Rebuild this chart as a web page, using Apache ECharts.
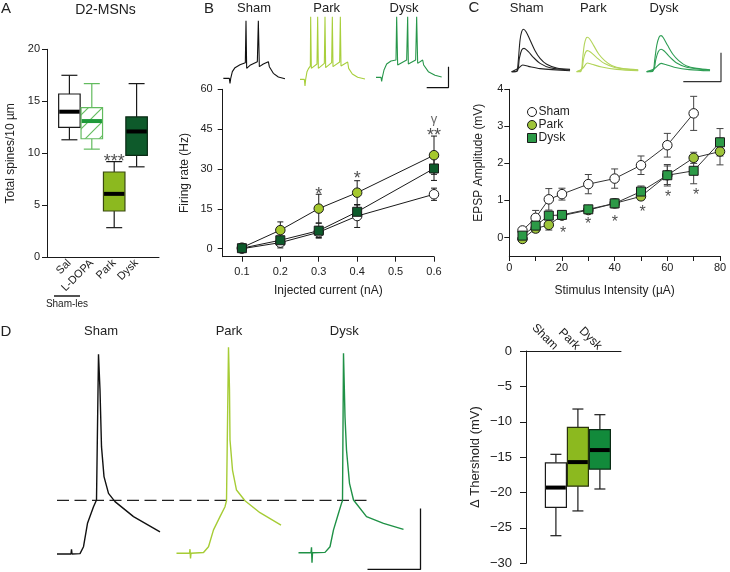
<!DOCTYPE html>
<html><head><meta charset="utf-8">
<script src="https://cdn.jsdelivr.net/npm/echarts@6/dist/echarts.min.js"></script>
<style>html,body{margin:0;padding:0;background:#fff}#c{width:730px;height:572px}</style>
</head><body><div id="c"></div>
<script>
// ---------------- DATA ----------------
// Panel A : spine density box plots
const aCats = ['', 'Sal', 'L-DOPA', 'Park', 'Dysk', ''];
const aMin = [11.3, 10.4, 2.85, 8.7];
const aQ1  = [12.5, 11.4, 4.45, 9.8];
const aMed = [14.0, 13.1, 6.1, 12.1];
const aQ3  = [15.7, 14.4, 8.2, 13.5];
const aMax = [17.5, 16.7, 9.2, 16.7];
const aSigX = [3];
const aSigY = [9.18];
const aSigText = ['***'];

// Panel B : firing rate vs injected current
const bCurrent = [0.1, 0.2, 0.3, 0.4, 0.6];
const bXTicks = [0.1, 0.2, 0.3, 0.4, 0.5, 0.6];
const bYTicks = [0, 15, 30, 45, 60];
const bSham = [0.0, 2.3, 6.2, 12.3, 20.5];
const bShamErr = [0.3, 2.0, 2.0, 4.3, 2.3];
const bPark = [0.4, 7.0, 15.1, 21.1, 35.2];
const bParkErr = [0.3, 3.1, 5.4, 4.5, 7.2];
const bDysk = [0.2, 3.2, 6.8, 13.9, 30.2];
const bDyskErr = [0.3, 1.2, 2.8, 2.6, 4.5];
const bSigX = [0.3, 0.4, 0.6, 0.6];
const bSigY = [20.1, 26.4, 42.3, 48.8];
const bSigText = ['*', '*', '**', 'γ'];

// Panel C : EPSP amplitude vs stimulus intensity
const cIntensity = [5, 10, 15, 20, 30, 40, 50, 60, 70, 80];
const cXTicks = [0, 10, 20, 30, 40, 50, 60, 70, 80];
const cXLabels = [0, 20, 40, 60, 80];
const cYTicks = [0, 1, 2, 3, 4];
const cSham = [0.19, 0.53, 1.03, 1.17, 1.44, 1.59, 1.95, 2.49, 3.35, null];
const cShamErr = [0.05, 0.2, 0.29, 0.16, 0.26, 0.26, 0.25, 0.32, 0.46, null];
const cPark = [-0.04, 0.24, 0.34, 0.59, 0.74, 0.92, 1.11, 1.68, 2.15, 2.32];
const cParkErr = [0.05, 0.1, 0.14, 0.08, 0.08, 0.08, 0.09, 0.25, 0.15, 0.36];
const cDysk = [0.05, 0.32, 0.59, 0.61, 0.76, 0.92, 1.24, 1.68, 1.8, 2.57];
const cDyskErr = [0.05, 0.08, 0.1, 0.1, 0.1, 0.12, 0.15, 0.29, 0.35, 0.37];
const cSigX = [20.4, 29.9, 40.1, 50.6, 60.3, 70.9];
const cSigY = [0.1, 0.34, 0.4, 0.67, 1.09, 1.13];

// Panel D : threshold box plots
const dCats = ['Sham', 'Park', 'Dysk'];
const dMin = [-26.1, -22.6, -19.5];
const dQ1  = [-22.1, -19.1, -16.7];
const dMed = [-19.3, -15.7, -14.0];
const dQ3  = [-15.8, -10.8, -11.1];
const dMax = [-14.6, -8.2, -9.0];

// Example traces  [time (ms), membrane potential (mV)]
const bTraceSham = [[16.7,-62.5],[46.7,-62.5],[50,-70],[53.3,-63],[61.7,-52.5],[75,-46.5],[100,-42],[126.7,-39],[130,24],[133.3,-47.5],[150,-43],[186.7,-37.5],[191.7,24],[196.7,-45],[216.7,-41],[241.7,-37.5],[246.7,-45],[266.7,-55],[291.7,-60.5],[325,-63]];
const bTracePark = [[400,-64],[421.7,-64],[425,-74],[428.3,-64],[435,-52.5],[443.3,-47.5],[451.7,-44],[453.3,30],[456.7,-47.5],[485,-41],[488.3,30],[491.7,-47.5],[521.7,-40],[525,30],[528.3,-46.5],[558.3,-39],[561.7,30],[565,-45],[598.3,-38],[601.7,30],[605,-44],[638.3,-38],[643.3,-47.5],[661.7,-56],[688.3,-61],[725,-63.5]];
const bTraceDysk = [[780,-61],[805,-61],[808.3,-67],[811.7,-61],[820,-50],[833.3,-41],[855,-36.5],[880,-35],[883.3,30],[888.3,-42.5],[933.3,-35],[938.3,30],[941.7,-41],[978.3,-35],[983.3,30],[988.3,-40],[1013.3,-35],[1018.3,-42.5],[1041.7,-52.5],[1075,-58],[1108.3,-60.5]];
const bScaleBar = [[1033.5,-76.3],[1142.5,-76.3],[1142.5,-45]];

// EPSP traces [time (ms), mV]
const cShamBig = [[0,0.03],[8.7,0.03],[11.3,0.17],[13.3,1.0],[16.7,2.67],[20,3.36],[23.3,3.56],[28.7,3.36],[36.7,2.67],[46.7,1.78],[56.7,1.14],[70,0.64],[90,0.33],[116.7,0.22]];
const cShamMid = [[0,0.03],[11.3,0.1],[15.3,1.14],[20,1.83],[24.7,1.97],[33.3,1.69],[43.3,1.22],[56.7,0.72],[76.7,0.36],[116.7,0.17]];
const cShamSmall = [[0,0.03],[13.3,0.31],[22,0.58],[33.3,0.47],[56.7,0.28],[116.7,0.11]];
const cParkBig = [[0,0.03],[8,0.03],[12,1.2],[15.3,2.3],[18.7,2.8],[21.3,2.89],[26,2.75],[34,2.2],[44,1.5],[56,0.95],[70,0.55],[90,0.3],[123,0.18]];
const cParkMid = [[0,0.03],[10,0.2],[13.3,1.0],[17.3,1.6],[21.3,1.78],[28,1.65],[40,1.2],[56,0.7],[76,0.38],[123,0.15]];
const cParkSmall = [[0,0.03],[12,0.3],[21.3,0.75],[30,0.65],[50,0.42],[80,0.22],[123,0.1]];
const cDyskBig = [[0,0.03],[12,0.05],[16,1.0],[20,2.2],[24.7,2.9],[28.7,3.03],[33.3,2.85],[42,2.2],[52,1.5],[64,0.95],[80,0.5],[100,0.3],[126.7,0.18]];
const cDyskMid = [[0,0.03],[14,0.2],[18,1.0],[23.3,1.7],[28.7,1.89],[35,1.75],[45,1.3],[60,0.75],[80,0.4],[126.7,0.15]];
const cDyskSmall = [[0,0.03],[16,0.3],[28.7,0.72],[38,0.62],[55,0.4],[85,0.2],[126.7,0.1]];
const cScaleBar = [[73.2,-0.81],[148.6,-0.81],[148.6,1.61]];

// Single action potentials [time (ms), mV]
const dTraceSham = [[0,-74.4],[2.8,-74.4],[2.9,-71.9],[3.0,-74.4],[4.6,-74.2],[5.3,-70.5],[6.1,-58],[7.3,-49.1],[7.9,-45.5],[8.3,32.4],[8.6,13.3],[8.9,-17],[9.4,-33],[10.3,-42],[11.6,-46.4],[15.3,-54.4],[20.6,-62.5]];
const dTracePark = [[23.9,-74],[26.5,-74],[26.6,-71.8],[26.7,-76.7],[26.8,-74],[29.3,-73.6],[30.3,-70.5],[31.3,-61.5],[32.6,-54.4],[33.6,-49.1],[33.9,-45.9],[34.3,36.1],[34.5,13.3],[34.6,-13.4],[35.1,-29.5],[35.9,-40.2],[37.6,-45.9],[40.6,-52.3],[44.8,-58.9]];
const dTraceDysk = [[48.3,-73.7],[50.8,-73.7],[50.9,-70.8],[51.0,-79],[51.1,-73.7],[53.6,-73.5],[54.6,-70.5],[55.3,-61.5],[56.3,-52.6],[56.9,-47.3],[57.1,-45.9],[57.3,32.9],[57.6,-1],[57.9,-18.8],[58.5,-36.6],[59.3,-45.5],[61.9,-54.4],[65.3,-58],[69.3,-61.2]];
const dThreshold = [[0,-45.7],[62.9,-45.7]];
const dScaleBar = [[62.1,-82.6],[72.7,-82.6],[72.7,-50]];

// ---------------- CHART ----------------
const FONT = 'Liberation Sans, Arial, Helvetica, sans-serif';
const INK = '#1a1a1a';
const TXT = '#222';

function merge(a, b) {
  const out = Array.isArray(a) ? a.slice() : Object.assign({}, a);
  for (const k in b) {
    if (b[k] && typeof b[k] === 'object' && !Array.isArray(b[k]) && a && typeof a[k] === 'object' && !Array.isArray(a[k])) out[k] = merge(a[k], b[k]);
    else out[k] = b[k];
  }
  return out;
}
const axBase = {
  axisLine: {show: true, onZero: false, lineStyle: {color: INK, width: 1}},
  axisTick: {show: true, inside: false, length: 5, lineStyle: {color: INK, width: 1}},
  axisLabel: {show: true, color: TXT, fontSize: 11, fontFamily: FONT},
  splitLine: {show: false},
  nameLocation: 'middle',
  nameTextStyle: {color: TXT, fontSize: 12, fontFamily: FONT}
};
const ax = (o) => merge(axBase, o);
const hidden = (g, min, max) => ({gridIndex: g, type: 'value', min: min, max: max, show: false});

function makeHatch() {
  const s = 14, cv = document.createElement('canvas');
  cv.width = s; cv.height = s;
  const g = cv.getContext('2d');
  g.fillStyle = '#fff'; g.fillRect(0, 0, s, s);
  g.strokeStyle = '#66bd62'; g.lineWidth = 1.2;
  g.beginPath();
  g.moveTo(-2, s + 2); g.lineTo(s + 2, -2);
  g.moveTo(-2, 2); g.lineTo(2, -2);
  g.moveTo(s - 2, s + 2); g.lineTo(s + 2, s - 2);
  g.stroke();
  return cv;
}
const hatch = {image: makeHatch(), repeat: 'repeat'};

const ln = (x1, y1, x2, y2, stroke, w) => ({type: 'line', shape: {x1, y1, x2, y2}, style: {stroke, lineWidth: w}});

function boxRenderer(styles, boxW, capW) {
  return function (params, api) {
    const st = styles[params.dataIndex];
    const x = api.value(0);
    const P = (k) => api.coord([x, api.value(k)]);
    const pMin = P(1), pQ1 = P(2), pMed = P(3), pQ3 = P(4), pMax = P(5);
    const cx = pMed[0];
    const yTop = Math.min(pQ1[1], pQ3[1]), yBot = Math.max(pQ1[1], pQ3[1]);
    const yHi = Math.min(pMin[1], pMax[1]), yLo = Math.max(pMin[1], pMax[1]);
    return {type: 'group', children: [
      ln(cx, yHi, cx, yTop, st.whisker, 1.2),
      ln(cx, yBot, cx, yLo, st.whisker, 1.2),
      ln(cx - capW / 2, yHi, cx + capW / 2, yHi, st.whisker, 1.2),
      ln(cx - capW / 2, yLo, cx + capW / 2, yLo, st.whisker, 1.2),
      {type: 'rect', shape: {x: cx - boxW / 2, y: yTop, width: boxW, height: yBot - yTop}, style: {fill: st.fill, stroke: st.stroke, lineWidth: 1.2}},
      ln(cx - boxW / 2 + 0.6, pMed[1], cx + boxW / 2 - 0.6, pMed[1], st.median, 4)
    ]};
  };
}
function errRenderer(capW, color) {
  return function (params, api) {
    const x = api.value(0), y = api.value(1), e = api.value(2);
    const t = api.coord([x, y + e]), b = api.coord([x, y - e]);
    const h = capW / 2;
    return {type: 'group', children: [
      ln(t[0], t[1], b[0], b[1], color, 1),
      ln(t[0] - h, t[1], t[0] + h, t[1], color, 1),
      ln(b[0] - h, b[1], b[0] + h, b[1], color, 1)
    ]};
  };
}
const pairs = (xs, ys) => xs.map((x, i) => [x, ys[i]]).filter(p => p[1] != null);
const triples = (xs, ys, es) => xs.map((x, i) => [x, ys[i], es[i]]).filter(p => p[1] != null && p[2] != null);

function errSeries(xi, data, cap, color) {
  return {type: 'custom', xAxisIndex: xi, yAxisIndex: xi, data: data, renderItem: errRenderer(cap, color),
    encode: {x: 0, y: [1, 2]}, z: 3, silent: true};
}
function lineSeries(name, xi, data, sym, size, fill, lineColor) {
  return {type: 'line', name: name, xAxisIndex: xi, yAxisIndex: xi, data: data,
    symbol: sym, symbolSize: size, showSymbol: true,
    itemStyle: {color: fill, borderColor: INK, borderWidth: 1},
    lineStyle: {color: lineColor, width: 1}, z: 4, silent: true, emphasis: {disabled: true}};
}
function sigSeries(xi, xs, ys, texts, size) {
  return {type: 'scatter', xAxisIndex: xi, yAxisIndex: xi, symbol: 'circle', symbolSize: 1,
    itemStyle: {color: 'rgba(0,0,0,0)'}, z: 5, silent: true,
    data: xs.map((x, i) => ({value: [x, ys[i]], name: texts[i],
      label: texts[i] === 'γ' ? {fontSize: 13, color: '#444'} : {}})),
    label: {show: true, position: 'inside', formatter: '{b}', fontSize: size, color: TXT, fontFamily: FONT}};
}
function traceSeries(gi, data, color, width, dash) {
  return {type: 'line', xAxisIndex: gi, yAxisIndex: gi, data: data, symbol: 'none',
    lineStyle: {color: color, width: width, type: dash || 'solid'}, silent: true, z: 2};
}
function smoothTrace(gi, data, color) {
  const s = traceSeries(gi, data, color, 1.1);
  s.smooth = 0.3;
  return s;
}

const aStyles = [
  {fill: '#ffffff', stroke: INK, whisker: INK, median: '#000'},
  {fill: hatch, stroke: '#62bb5e', whisker: '#62bb5e', median: '#1f9a3a'},
  {fill: '#8cb91f', stroke: '#3a4a10', whisker: INK, median: '#000'},
  {fill: '#0e5a2b', stroke: '#0a2a14', whisker: INK, median: '#000'}
];
const dStyles = [
  {fill: '#ffffff', stroke: INK, whisker: INK, median: '#000'},
  {fill: '#8cb91f', stroke: '#2a330c', whisker: INK, median: '#000'},
  {fill: '#128a3b', stroke: '#0a2a14', whisker: INK, median: '#000'}
];

const grids = [
  {left: 47, top: 49.3, width: 112, height: 208},      // 0 A
  {left: 222.7, top: 89.3, width: 211.3, height: 167.4}, // 1 B
  {left: 509.3, top: 89.3, width: 210.7, height: 166.7}, // 2 C
  {left: 526, top: 351, width: 95, height: 212.3},     // 3 D box
  {left: 220, top: 10, width: 235, height: 80},        // 4 B traces
  {left: 511.7, top: 18, width: 75, height: 72},       // 5 C sham traces
  {left: 576.7, top: 18, width: 75, height: 72},       // 6 C park traces
  {left: 646.7, top: 18, width: 75, height: 72},       // 7 C dysk traces
  {left: 57, top: 340, width: 375, height: 232}        // 8 D traces
].map(g => Object.assign({containLabel: false, outerBoundsMode: 'none'}, g));

const xAxes = [
  ax({gridIndex: 0, type: 'category', data: aCats, boundaryGap: false,
      axisTick: {show: false}, axisLabel: {rotate: 45, margin: 4, interval: 0}}),
  ax({gridIndex: 1, type: 'value', min: 0.05, max: 0.6,
      axisTick: {customValues: bXTicks}, axisLabel: {customValues: bXTicks, margin: 10, formatter: v => v.toFixed(1)},
      name: 'Injected current (nA)', nameGap: 28}),
  ax({gridIndex: 2, type: 'value', min: 0, max: 80,
      axisTick: {customValues: cXTicks}, axisLabel: {customValues: cXLabels, margin: 6},
      name: 'Stimulus Intensity (\u00b5A)', nameGap: 29}),
  ax({gridIndex: 3, type: 'value', min: -1.36, max: 2.96, position: 'top',
      axisTick: {show: false}, axisLabel: {customValues: [0, 1, 2], rotate: 45, margin: 3, fontSize: 12,
      formatter: v => dCats[Math.round(v)]}}),
  hidden(4, 0, 1175), hidden(5, 0, 150), hidden(6, 0, 150), hidden(7, 0, 150), hidden(8, 0, 75)
];
const yAxes = [
  ax({gridIndex: 0, type: 'value', min: 0, max: 20, interval: 5, axisLabel: {margin: 7},
      name: 'Total spines/10 \u00b5m', nameGap: 30}),
  ax({gridIndex: 1, type: 'value', min: -3, max: 60,
      axisTick: {customValues: bYTicks}, axisLabel: {customValues: bYTicks, margin: 10},
      name: 'Firing rate (Hz)', nameGap: 32}),
  ax({gridIndex: 2, type: 'value', min: -0.5, max: 4,
      axisTick: {customValues: cYTicks}, axisLabel: {customValues: cYTicks, margin: 6},
      name: 'EPSP Amplitude (mV)', nameGap: 25, nameTextStyle: {padding: [0, 0, 0, 20]}}),
  ax({gridIndex: 3, type: 'value', min: -30, max: 0, interval: 5,
      axisTick: {length: 6}, axisLabel: {margin: 14, fontSize: 13, formatter: v => v < 0 ? '\u2212' + (-v) : String(v)},
      name: '\u0394 Thershold (mV)', nameGap: 44, nameTextStyle: {fontSize: 13}}),
  hidden(4, -80, 40), hidden(5, -1.5, 4.5), hidden(6, -1.5, 4.5), hidden(7, -1.5, 4.5), hidden(8, -84, 40)
];

const cParkColor = '#9ec43a', cDyskColor = '#2c9a47';
const series = [
  // Panel C (first so legend picks these visuals)
  errSeries(2, triples(cIntensity, cSham, cShamErr), 7, '#444'),
  errSeries(2, triples(cIntensity, cPark, cParkErr), 7, '#444'),
  errSeries(2, triples(cIntensity, cDysk, cDyskErr), 7, '#444'),
  lineSeries('Sham', 2, pairs(cIntensity, cSham), 'circle', 9.5, '#ffffff', '#333'),
  lineSeries('Park', 2, pairs(cIntensity, cPark), 'circle', 9.5, cParkColor, '#333'),
  lineSeries('Dysk', 2, pairs(cIntensity, cDysk), 'rect', 9, cDyskColor, '#333'),
  sigSeries(2, cSigX, cSigY, cSigX.map(() => '*'), 16),
  // Panel A
  {type: 'custom', xAxisIndex: 0, yAxisIndex: 0, silent: true, z: 3,
    data: aMin.map((v, i) => [i + 1, aMin[i], aQ1[i], aMed[i], aQ3[i], aMax[i]]),
    encode: {x: 0, y: [1, 2, 3, 4, 5]}, renderItem: boxRenderer(aStyles, 21.5, 16)},
  sigSeries(0, aSigX, aSigY, aSigText, 18),
  // Panel B
  errSeries(1, triples(bCurrent, bSham, bShamErr), 6, INK),
  errSeries(1, triples(bCurrent, bPark, bParkErr), 6, INK),
  errSeries(1, triples(bCurrent, bDysk, bDyskErr), 6, INK),
  lineSeries('Sham (B)', 1, pairs(bCurrent, bSham), 'circle', 9.5, '#ffffff', INK),
  lineSeries('Park (B)', 1, pairs(bCurrent, bPark), 'circle', 9.5, '#a5c82d', INK),
  lineSeries('Dysk (B)', 1, pairs(bCurrent, bDysk), 'rect', 9, '#0d5b2b', INK),
  sigSeries(1, bSigX, bSigY, bSigText, 18),
  // Panel D box plot
  {type: 'custom', xAxisIndex: 3, yAxisIndex: 3, silent: true, z: 3,
    data: dMin.map((v, i) => [i, dMin[i], dQ1[i], dMed[i], dQ3[i], dMax[i]]),
    encode: {x: 0, y: [1, 2, 3, 4, 5]}, renderItem: boxRenderer(dStyles, 21, 11)},
  // Traces B
  traceSeries(4, bTraceSham, '#111', 1.1),
  traceSeries(4, bTracePark, '#a8cf3c', 1.1),
  traceSeries(4, bTraceDysk, '#27964a', 1.1),
  traceSeries(4, bScaleBar, '#111', 1.2),
  // Traces C
  smoothTrace(5, cShamBig, '#222'), smoothTrace(5, cShamMid, '#222'), smoothTrace(5, cShamSmall, '#222'),
  smoothTrace(6, cParkBig, '#b3d45a'), smoothTrace(6, cParkMid, '#b3d45a'), smoothTrace(6, cParkSmall, '#b3d45a'),
  smoothTrace(7, cDyskBig, '#2f9e55'), smoothTrace(7, cDyskMid, '#2f9e55'), smoothTrace(7, cDyskSmall, '#2f9e55'),
  traceSeries(7, cScaleBar, '#333', 1.2),
  // Traces D
  traceSeries(8, dThreshold, '#222', 1.3, [12, 5.5]),
  traceSeries(8, dTraceSham, '#111', 1.4),
  traceSeries(8, dTracePark, '#a6cc35', 1.4),
  traceSeries(8, dTraceDysk, '#1f9146', 1.4),
  traceSeries(8, dScaleBar, '#111', 1.3)
];

const T = (text, x, y, size, align) => ({type: 'text', x: x, y: y, silent: true,
  style: {text: text, fill: TXT, font: size + 'px ' + FONT, align: align || 'center', textAlign: align || 'center',
    verticalAlign: 'middle', textVerticalAlign: 'middle'}});

const option = {
  animation: false,
  backgroundColor: '#ffffff',
  textStyle: {fontFamily: FONT},
  grid: grids,
  xAxis: xAxes,
  yAxis: yAxes,
  legend: {
    left: 522, top: 101, orient: 'vertical', itemWidth: 9, itemHeight: 9, itemGap: 1, selectedMode: false,
    textStyle: {fontSize: 12, color: TXT, fontFamily: FONT, padding: [0, 0, 0, -3]},
    data: [
      {name: 'Sham', icon: 'circle', itemStyle: {color: '#ffffff', borderColor: INK, borderWidth: 1}},
      {name: 'Park', icon: 'circle', itemStyle: {color: cParkColor, borderColor: INK, borderWidth: 1}},
      {name: 'Dysk', icon: 'rect', itemStyle: {color: cDyskColor, borderColor: INK, borderWidth: 1}}
    ]
  },
  graphic: [
    T('A', 6, 9, 15), T('B', 209, 9, 15), T('C', 474, 8, 15), T('D', 6, 332, 15),
    T('D2-MSNs', 105.5, 10, 14),
    T('Sham', 254, 8, 13), T('Park', 326.7, 8, 13), T('Dysk', 404, 8, 13),
    T('Sham', 526.7, 8, 13), T('Park', 593.3, 8, 13), T('Dysk', 664, 8, 13),
    T('Sham', 101, 331.7, 13), T('Park', 229, 331.7, 13), T('Dysk', 344.3, 331.7, 13),
    {type: 'line', silent: true, shape: {x1: 54, y1: 296, x2: 80, y2: 296}, style: {stroke: INK, lineWidth: 1.5}},
    T('Sham-les', 67, 304.5, 10)
  ],
  series: series
};

const chart = echarts.init(document.getElementById('c'), null, {renderer: 'canvas'});
chart.setOption(option);
</script>
</body></html>
